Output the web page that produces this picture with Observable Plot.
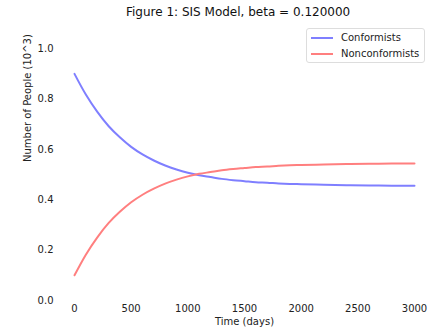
<!DOCTYPE html>
<html>
<head>
<meta charset="utf-8">
<script src="https://cdn.jsdelivr.net/npm/d3@7"></script>
<script src="https://cdn.jsdelivr.net/npm/@observablehq/plot@0.6"></script>
<style>
  html, body { margin: 0; padding: 0; background: #fff; }
  body { width: 429px; height: 332px; position: relative; overflow: hidden; font-family: "DejaVu Sans", sans-serif; }
  #title { height: 22px; line-height: 25px; font-size: 12px; color: #111; text-align: left; padding-left: 126px; white-space: nowrap; overflow: visible; }
  #legend { position: absolute; left: 306px; top: 28px; width: 117px; height: 33px; border: 1px solid #ddd; border-radius: 3px; background: rgba(255,255,255,0.8); font-size: 10px; color: #222; }
  .row { position: absolute; left: 0; height: 12px; line-height: 12px; white-space: nowrap; }
  .swatch { position: absolute; left: 4px; top: 5px; width: 22px; height: 2px; }
  .lab { position: absolute; left: 34px; top: 0; }
</style>
</head>
<body>
<div id="title">Figure 1: SIS Model, beta = 0.120000</div>
<div id="chart"></div>
<div id="legend"></div>
<script>
// Time in days
const days = [0, 100, 200, 300, 400, 500, 600, 700, 800, 900, 1000, 1100, 1200, 1300, 1400, 1500, 1600, 1700, 1800, 1900, 2000, 2200, 2400, 2600, 2800, 3000];
// Number of people (10^3)
const conformists = [0.900, 0.818, 0.750, 0.693, 0.648, 0.610, 0.580, 0.556, 0.536, 0.520, 0.507, 0.497, 0.490, 0.483, 0.478, 0.474, 0.470, 0.468, 0.465, 0.463, 0.462, 0.460, 0.458, 0.457, 0.456, 0.456];
const nonconformists = [0.100, 0.182, 0.250, 0.307, 0.352, 0.390, 0.420, 0.444, 0.464, 0.480, 0.493, 0.503, 0.510, 0.517, 0.522, 0.526, 0.530, 0.532, 0.535, 0.537, 0.538, 0.540, 0.542, 0.543, 0.544, 0.544];
const seriesNames = ["Conformists", "Nonconformists"];
const seriesColors = ["#7f7fff", "#ff7f7f"];
const xTicks = [0, 500, 1000, 1500, 2000, 2500, 3000];
const yTicks = [0.0, 0.2, 0.4, 0.6, 0.8, 1.0];

const data = [];
days.forEach((d, i) => {
  data.push({t: d, v: conformists[i], s: seriesNames[0]});
  data.push({t: d, v: nonconformists[i], s: seriesNames[1]});
});

const chart = Plot.plot({
  width: 429,
  height: 310,
  marginLeft: 74,
  marginRight: 15,
  marginTop: 1,
  marginBottom: 32,
  style: {fontFamily: "DejaVu Sans, sans-serif", fontSize: "10px", color: "#222", background: "#fff"},
  x: {domain: [0, 3000], ticks: xTicks, tickSize: 0, tickPadding: 4, tickFormat: d3.format("d"), label: null},
  y: {domain: [0, 1.1], ticks: yTicks, tickSize: 0, tickPadding: 21, tickFormat: d3.format(".1f"), label: null},
  color: {domain: seriesNames, range: seriesColors},
  marks: [
    Plot.line(data, {x: "t", y: "v", z: "s", stroke: "s", strokeWidth: 2, curve: "catmull-rom"}),
    Plot.text(["Time (days)"], {frameAnchor: "bottom", dy: 24, text: d => d, fontSize: 10, fill: "#222"}),
    Plot.text(["Number of People (10^3)"], {frameAnchor: "left", dx: -47, rotate: -90, text: d => d, fontSize: 10, fill: "#222"})
  ]
});
document.getElementById("chart").appendChild(chart);

const legend = document.getElementById("legend");
seriesNames.forEach((name, i) => {
  const row = document.createElement("div");
  row.className = "row";
  row.style.top = (3 + i * 16) + "px";
  row.style.width = "115px";
  const sw = document.createElement("div");
  sw.className = "swatch";
  sw.style.background = seriesColors[i];
  const lab = document.createElement("div");
  lab.className = "lab";
  lab.textContent = name;
  row.appendChild(sw);
  row.appendChild(lab);
  legend.appendChild(row);
});
</script>
</body>
</html>
